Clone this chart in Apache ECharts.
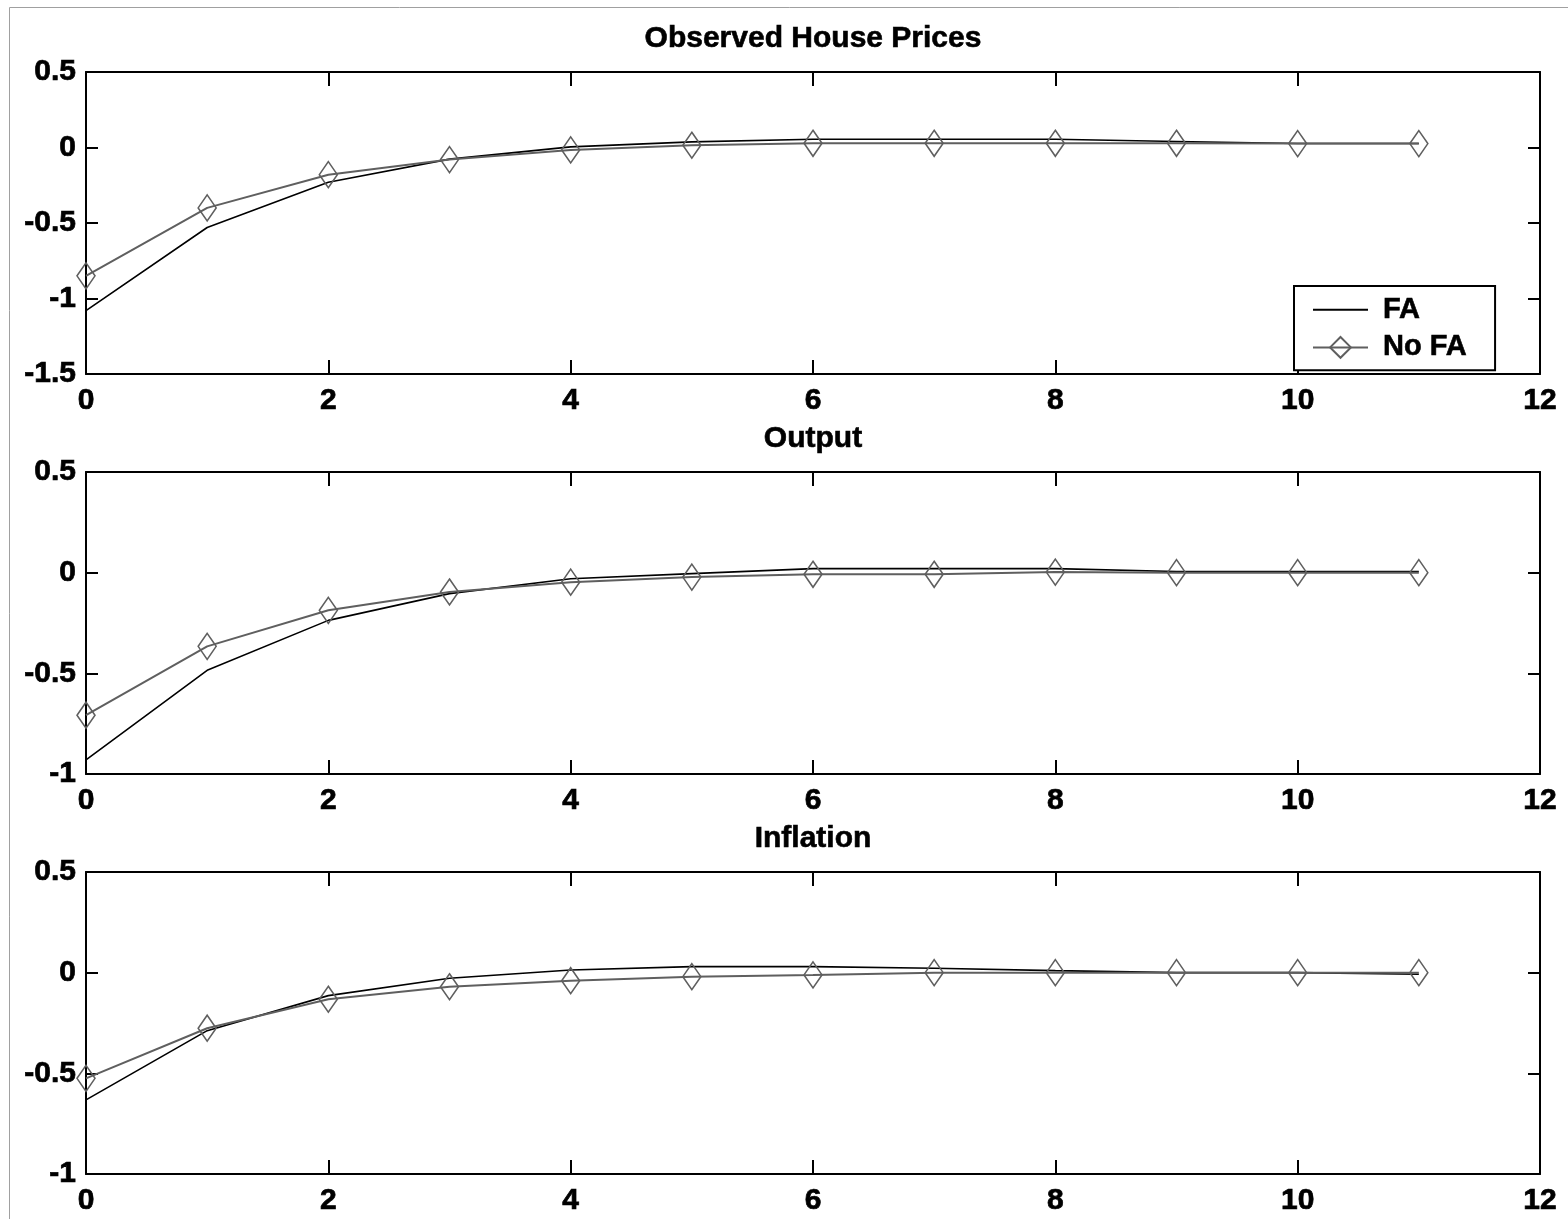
<!DOCTYPE html>
<html>
<head>
<meta charset="utf-8">
<title>Impulse responses: FA vs No FA</title>
<script src="https://cdn.jsdelivr.net/npm/echarts@6/dist/echarts.min.js"></script>
<style>
  html, body { margin: 0; padding: 0; background: #fff; }
  #chart { width: 1568px; height: 1219px; }
</style>
</head>
<body>
<div id="chart"></div>
<script>
// Quarters after the shock
const horizons = [0, 1, 2, 3, 4, 5, 6, 7, 8, 9, 10, 11];

// Observed house prices
const housePricesFA   = [-1.08, -0.53, -0.23, -0.077, 0.004, 0.037, 0.055, 0.055, 0.055, 0.040, 0.026, 0.026];
const housePricesNoFA = [-0.85, -0.40, -0.18, -0.080, -0.016, 0.015, 0.028, 0.028, 0.028, 0.028, 0.026, 0.026];

// Output
const outputFA   = [-0.93, -0.485, -0.237, -0.104, -0.030, -0.005, 0.020, 0.020, 0.020, 0.006, 0.006, 0.006];
const outputNoFA = [-0.708, -0.366, -0.187, -0.096, -0.047, -0.022, -0.008, -0.008, 0.003, 0.000, 0.000, 0.000];

// Inflation
const inflationFA   = [-0.632, -0.288, -0.114, -0.028, 0.013, 0.030, 0.030, 0.022, 0.010, 0.000, 0.000, -0.008];
const inflationNoFA = [-0.525, -0.276, -0.132, -0.070, -0.040, -0.020, -0.011, 0.000, 0.000, 0.000, 0.000, 0.000];

const panelTitles = ['Observed House Prices', 'Output', 'Inflation'];
const yMins = [-1.5, -1, -1];
const yMax = 0.5;
const xMin = 0, xMax = 12, xStep = 2, yStep = 0.5;

const FONT = '"Liberation Sans", Arial, Helvetica, sans-serif';
const panels = [
  { fa: housePricesFA, nofa: housePricesNoFA },
  { fa: outputFA, nofa: outputNoFA },
  { fa: inflationFA, nofa: inflationNoFA }
];

const gridTops = [72, 472, 872];
const gridH = 302;
const pair = arr => horizons.map((h, i) => [h, arr[i]]);

const grids = [], xAxes = [], yAxes = [], series = [], graphics = [];
// heavy bold labels
const labelStyle = {
  color: '#000', fontFamily: FONT, fontWeight: 'bold', fontSize: 30,
  textBorderColor: '#000', textBorderWidth: 0.7
};
const frameLine = { show: true, lineStyle: { color: '#000', width: 2 } };

panels.forEach((p, k) => {
  grids.push({ left: 86, right: 28, top: gridTops[k], height: gridH, containLabel: false });
  // bottom x axis with labels
  xAxes.push({
    type: 'value', gridIndex: k, position: 'bottom', min: xMin, max: xMax, interval: xStep,
    axisLine: Object.assign({ onZero: false }, frameLine),
    axisTick: { inside: true, length: 14, lineStyle: { color: '#000', width: 2 } },
    axisLabel: Object.assign({ margin: 12 }, labelStyle),
    splitLine: { show: false }
  });
  // top x axis: frame + ticks only
  xAxes.push({
    type: 'value', gridIndex: k, position: 'top', min: xMin, max: xMax, interval: xStep,
    axisLine: Object.assign({ onZero: false }, frameLine),
    axisTick: { inside: true, length: 14, lineStyle: { color: '#000', width: 2 } },
    axisLabel: { show: false },
    splitLine: { show: false }
  });
  yAxes.push({
    type: 'value', gridIndex: k, position: 'left', min: yMins[k], max: yMax, interval: yStep,
    axisLine: Object.assign({ onZero: false }, frameLine),
    axisTick: { inside: true, length: 12, lineStyle: { color: '#000', width: 2 } },
    axisLabel: Object.assign({ margin: 10 }, labelStyle),
    splitLine: { show: false }
  });
  yAxes.push({
    type: 'value', gridIndex: k, position: 'right', min: yMins[k], max: yMax, interval: yStep,
    axisLine: Object.assign({ onZero: false }, frameLine),
    axisTick: { inside: true, length: 12, lineStyle: { color: '#000', width: 2 } },
    axisLabel: { show: false },
    splitLine: { show: false }
  });

  series.push({
    name: 'FA', type: 'line', xAxisIndex: 2 * k, yAxisIndex: 2 * k,
    data: pair(p.fa), showSymbol: false, symbol: 'none',
    lineStyle: { color: '#000', width: 1.6 },
    itemStyle: { color: '#000' },
    z: 3, animation: false
  });
  series.push({
    name: 'No FA', type: 'line', xAxisIndex: 2 * k, yAxisIndex: 2 * k,
    data: pair(p.nofa), symbol: 'diamond', symbolSize: [18, 26],
    lineStyle: { color: '#5f5f5f', width: 2 },
    itemStyle: { color: 'rgba(0,0,0,0)', borderColor: '#5f5f5f', borderWidth: 1.6 },
    z: 4, animation: false
  });

  graphics.push({
    type: 'text', x: 813, y: gridTops[k] - 33,
    style: {
      text: panelTitles[k], fill: '#000', font: 'bold 30px ' + FONT,
      textAlign: 'center', textVerticalAlign: 'middle',
      stroke: '#000', lineWidth: 0.6
    }
  });
});

// Thin outer frame around the figure
graphics.push({
  type: 'rect', shape: { x: 9.5, y: 7.5, width: 1700, height: 1400 },
  style: { fill: 'none', stroke: '#a0a0a0', lineWidth: 1 }, z: -1
});

const chart = echarts.init(document.getElementById('chart'), null, { renderer: 'canvas' });
chart.setOption({
  animation: false,
  backgroundColor: '#fff',
  grid: grids,
  xAxis: xAxes,
  yAxis: yAxes,
  series: series,
  legend: {
    data: [
      { name: 'FA', itemStyle: { color: 'rgba(0,0,0,0)', borderWidth: 0, opacity: 0 } },
      { name: 'No FA' }
    ],
    orient: 'vertical',
    left: 1294, top: 286,
    padding: [9, 28, 8, 18],
    itemGap: 8,
    itemWidth: 55, itemHeight: 26,
    backgroundColor: '#fff',
    borderColor: '#000', borderWidth: 2,
    selectedMode: false,
    textStyle: {
      color: '#000', fontFamily: FONT, fontWeight: 'bold', fontSize: 29,
      textBorderColor: '#000', textBorderWidth: 0.6, padding: [0, 0, 0, 10]
    }
  },
  graphic: graphics
});
</script>
</body>
</html>
